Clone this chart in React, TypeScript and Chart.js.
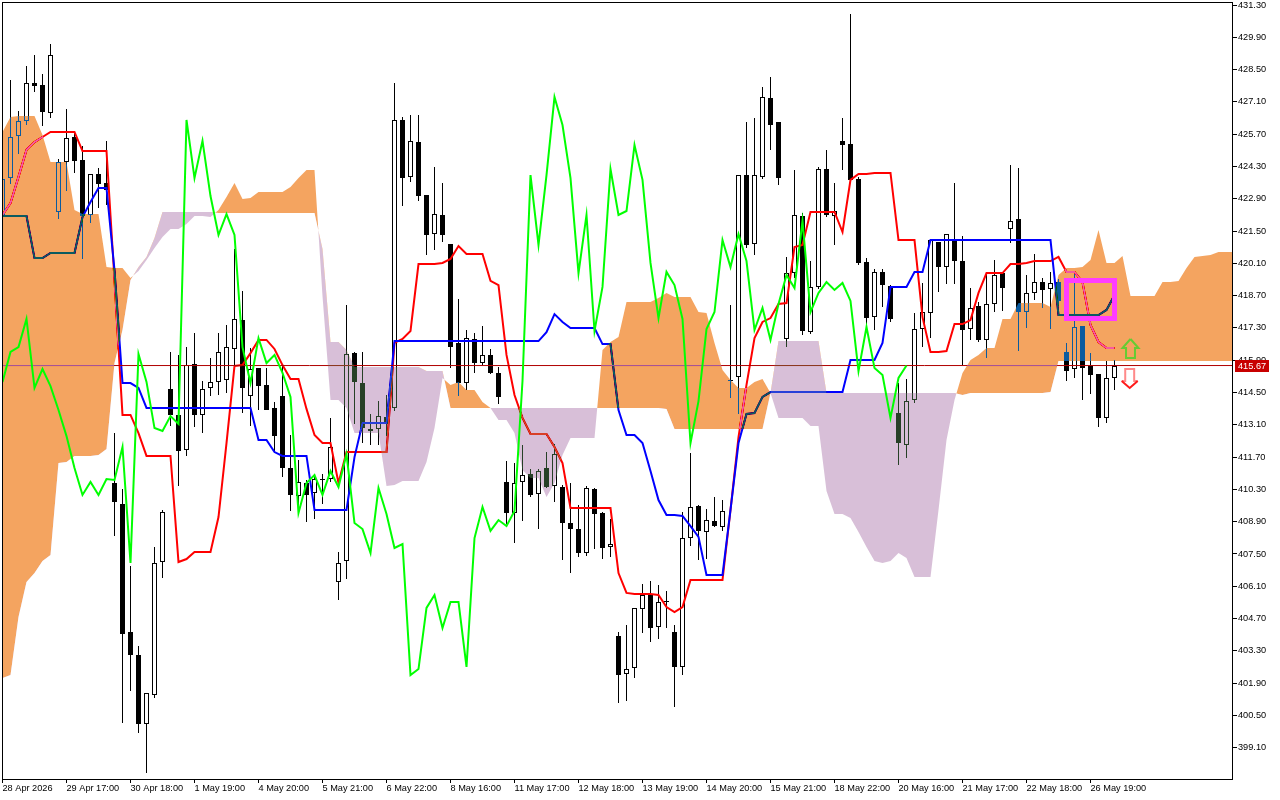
import { useEffect, useRef } from "react";
import { Chart, registerables } from "chart.js";

Chart.register(...registerables);

const opens = [
  422.15, 423.80, 425.62, 426.27, 427.92, 427.83, 426.62, 422.33, 424.50, 425.58,
  424.58, 422.20, 423.98, 423.59, 410.58, 409.67, 404.12, 403.12, 400.13, 401.38,
  407.15, 414.65, 413.53, 412.01, 415.74, 413.53, 414.70, 414.96, 415.04, 416.39,
  417.65, 414.35, 415.56, 414.83, 413.83, 414.35, 411.23, 410.01, 410.58, 410.14,
  410.75, 410.75, 406.28, 407.20, 416.21, 414.91, 412.92, 412.92, 413.44, 413.83,
  426.32, 423.85, 425.36, 423.06, 421.37, 422.20, 420.94, 416.65, 414.91, 416.82,
  415.78, 416.13, 415.35, 410.62, 409.28, 410.62, 410.97, 410.10, 411.23, 410.45,
  410.40, 408.84, 408.58, 407.54, 410.32, 409.28, 407.80, 403.94, 402.29, 402.56,
  405.11, 405.72, 404.33, 405.46, 404.12, 402.60, 408.19, 409.58, 408.45, 408.93,
  408.67, 415.04, 415.17, 423.93, 420.94, 423.85, 427.27, 426.23, 416.82, 419.68,
  422.15, 417.12, 419.08, 424.19, 422.15, 425.41, 425.28, 423.76, 420.16, 417.77,
  419.73, 419.12, 413.61, 412.22, 414.18, 417.25, 417.95, 421.03, 419.94, 421.07,
  420.20, 417.25, 418.25, 416.78, 418.34, 419.68, 421.59, 422.02, 417.99, 418.82,
  419.29, 418.99, 419.29, 416.26, 415.52, 417.38, 415.65, 415.30, 413.40, 415.13,
];
const highs = [
  423.93, 428.05, 426.71, 428.66, 429.14, 428.31, 429.61, 424.63, 426.79, 425.75,
  425.19, 423.98, 424.24, 425.41, 412.74, 410.32, 406.98, 403.51, 401.47, 407.80,
  409.41, 416.26, 416.13, 416.47, 417.08, 415.00, 416.00, 417.08, 417.43, 420.72,
  418.90, 416.43, 415.56, 415.56, 414.09, 415.69, 412.66, 411.57, 410.71, 410.97,
  410.97, 413.40, 407.59, 418.30, 416.26, 416.26, 413.57, 414.13, 414.39, 427.92,
  426.45, 426.53, 426.53, 423.06, 424.28, 423.59, 420.94, 418.56, 417.21, 417.08,
  417.38, 416.39, 415.61, 411.53, 411.44, 412.22, 411.18, 411.18, 411.92, 412.27,
  410.49, 410.58, 409.62, 410.45, 410.36, 409.32, 409.02, 404.12, 404.42, 405.16,
  406.20, 406.33, 406.16, 405.89, 404.42, 409.32, 411.88, 409.62, 409.45, 409.97,
  409.84, 418.30, 423.93, 426.23, 426.40, 427.75, 428.18, 426.23, 420.38, 424.15,
  422.28, 420.20, 424.28, 425.02, 423.59, 426.40, 430.91, 423.85, 420.33, 419.86,
  419.86, 419.16, 414.91, 415.09, 417.95, 419.25, 421.11, 421.03, 421.37, 423.59,
  421.29, 419.03, 418.43, 419.68, 420.25, 419.73, 424.37, 424.24, 419.60, 420.51,
  419.47, 419.73, 419.42, 416.65, 419.64, 417.38, 416.21, 415.30, 415.87, 415.91,
];
const lows = [
  421.98, 423.54, 424.84, 426.10, 427.53, 426.06, 426.40, 422.02, 423.24, 424.02,
  420.29, 421.85, 422.50, 422.63, 408.28, 400.17, 401.56, 399.74, 398.00, 401.25,
  406.46, 413.05, 410.45, 411.75, 413.01, 412.74, 414.35, 414.39, 414.48, 415.69,
  413.61, 413.05, 413.74, 413.74, 411.96, 410.84, 409.36, 409.32, 408.89, 409.02,
  409.67, 410.62, 405.50, 406.41, 413.14, 412.31, 412.22, 412.22, 412.61, 413.70,
  422.59, 423.63, 422.80, 420.46, 420.68, 421.03, 415.56, 414.35, 414.61, 415.35,
  415.70, 415.30, 414.00, 408.80, 407.97, 408.93, 409.97, 408.58, 410.36, 409.75,
  407.24, 406.67, 407.37, 407.41, 407.72, 407.28, 407.37, 401.04, 401.12, 402.12,
  404.07, 403.68, 403.81, 404.29, 400.86, 402.25, 407.85, 407.24, 407.28, 408.67,
  408.50, 414.26, 413.57, 420.77, 420.46, 423.76, 425.02, 423.50, 416.47, 419.47,
  417.00, 417.05, 419.00, 422.11, 420.90, 424.15, 423.60, 420.03, 417.34, 417.21,
  418.21, 417.56, 411.36, 411.66, 414.05, 416.47, 416.86, 418.86, 419.21, 419.21,
  415.69, 416.78, 416.69, 416.00, 417.99, 418.04, 420.98, 416.30, 417.30, 418.51,
  418.17, 417.25, 418.25, 415.00, 415.13, 414.18, 414.44, 413.01, 413.18, 414.61,
];
const closes = [
  423.76, 425.58, 426.27, 427.92, 427.79, 426.66, 429.14, 424.50, 425.54, 424.54,
  422.15, 423.98, 423.54, 423.28, 409.75, 404.03, 403.12, 400.13, 401.47, 407.11,
  409.32, 413.53, 411.96, 415.69, 413.53, 414.65, 414.96, 416.26, 416.47, 417.69,
  414.70, 415.52, 414.78, 413.74, 412.61, 411.23, 410.06, 410.62, 410.06, 410.75,
  410.71, 412.14, 407.11, 416.17, 414.96, 412.96, 412.83, 413.48, 413.14, 426.32,
  423.80, 425.41, 423.02, 421.33, 422.24, 421.33, 416.47, 414.91, 416.86, 415.78,
  416.13, 415.35, 414.31, 409.28, 410.58, 410.92, 410.06, 411.10, 410.40, 411.83,
  408.84, 408.58, 407.54, 410.36, 409.23, 407.76, 407.93, 402.25, 402.51, 405.16,
  405.72, 404.29, 405.42, 405.42, 402.60, 408.19, 409.54, 408.50, 408.97, 408.71,
  409.36, 415.00, 423.93, 420.90, 423.93, 427.31, 426.10, 423.80, 419.68, 422.20,
  417.17, 419.08, 424.19, 422.20, 422.37, 425.23, 423.72, 420.12, 417.73, 419.73,
  419.16, 417.69, 412.31, 414.13, 417.25, 417.99, 421.11, 419.94, 421.37, 420.20,
  417.21, 418.17, 416.78, 418.34, 419.60, 419.03, 421.94, 417.99, 418.82, 419.29,
  418.95, 419.25, 418.47, 415.43, 417.34, 415.56, 415.26, 413.40, 415.13, 415.67,
];

const tenkan = [
  422.20, 422.72, 423.85, 425.02, 425.36, 425.58, 425.80, 425.80, 425.80, 425.80,
  424.97, 424.97, 424.97, 424.97, 419.38, 413.53, 413.53, 412.74, 411.75, 411.75,
  411.75, 411.75, 407.15, 407.28, 407.59, 407.59, 407.59, 409.10, 412.31, 415.65,
  415.69, 416.21, 416.78, 416.78, 416.39, 415.69, 415.09, 415.09, 413.79, 412.66,
  412.31, 412.31, 410.58, 411.92, 411.92, 411.92, 411.92, 411.92, 411.92, 416.65,
  416.82, 417.17, 420.07, 420.07, 420.07, 420.12, 420.29, 420.85, 420.51, 420.51,
  420.51, 419.34, 419.16, 416.13, 414.39, 413.40, 412.70, 412.70, 412.70, 412.14,
  411.44, 409.49, 409.49, 409.49, 409.49, 409.49, 409.49, 406.67, 405.81, 405.76,
  405.76, 405.76, 405.72, 405.20, 404.98, 405.20, 406.37, 406.37, 406.37, 406.37,
  406.37, 409.41, 412.57, 414.83, 416.86, 417.56, 417.73, 418.34, 418.38, 420.81,
  420.90, 422.33, 422.33, 422.33, 422.33, 421.46, 423.72, 423.98, 423.98, 424.02,
  424.02, 424.02, 421.11, 421.11, 421.11, 417.77, 416.26, 416.26, 416.30, 417.47,
  417.47, 417.64, 418.82, 419.68, 419.68, 419.68, 420.07, 420.07, 420.12, 420.20,
  420.20, 420.20, 420.38, 419.73, 419.73, 419.29, 417.43, 416.69, 416.43, 416.43,
];
const kijun = [
  422.15, 422.15, 422.15, 422.15, 420.33, 420.33, 420.55, 420.55, 420.55, 420.55,
  422.11, 422.76, 423.37, 423.37, 419.81, 414.91, 414.91, 414.70, 413.83, 413.83,
  413.83, 413.83, 413.83, 413.83, 413.83, 413.83, 413.83, 413.83, 413.83, 413.83,
  413.83, 413.83, 412.44, 412.44, 411.92, 411.75, 411.75, 411.75, 411.75, 409.41,
  409.41, 409.41, 409.41, 409.41, 411.70, 413.18, 413.18, 413.18, 413.18, 416.73,
  416.73, 416.73, 416.73, 416.73, 416.73, 416.73, 416.73, 416.73, 416.73, 416.73,
  416.73, 416.73, 416.73, 416.73, 416.73, 416.73, 416.73, 416.73, 417.12, 417.90,
  417.56, 417.30, 417.30, 417.30, 417.30, 416.60, 416.60, 413.74, 412.66, 412.66,
  412.31, 411.10, 409.84, 409.19, 409.19, 409.15, 408.71, 408.24, 406.59, 406.59,
  406.59, 409.41, 412.31, 413.57, 413.61, 414.31, 414.52, 414.52, 414.52, 414.52,
  414.52, 414.52, 414.52, 414.52, 414.52, 414.52, 415.91, 415.91, 415.91, 415.91,
  416.65, 419.08, 419.08, 419.08, 419.73, 419.73, 421.11, 421.11, 421.11, 421.11,
  421.11, 421.11, 421.11, 421.11, 421.11, 421.11, 421.11, 421.11, 421.11, 421.11,
  421.11, 421.11, 417.86, 417.86, 417.86, 417.86, 417.86, 417.86, 418.08, 418.73,
];
// lagging span: the closes drawn 26 bars back
const chikou = closes.slice(26);

const senkouA = [
  425.80, 426.45, 426.49, 426.49, 426.49, 425.67, 424.50, 424.50, 424.50, 422.41,
  422.24, 422.24, 422.24, 419.94, 419.90, 419.90, 419.47, 419.77, 420.25, 420.77,
  421.24, 421.59, 421.59, 421.81, 422.15, 422.15, 422.11, 422.41, 422.98, 423.59,
  422.89, 422.93, 423.19, 423.19, 423.19, 423.19, 423.41, 423.80, 424.15, 424.15,
  418.69, 414.18, 414.18, 413.83, 412.74, 412.74, 412.74, 412.74, 410.45, 410.49,
  410.66, 410.66, 410.66, 411.49, 412.96, 415.13, 414.83, 414.96, 414.61, 414.61,
  414.09, 413.83, 413.31, 413.31, 412.74, 411.14, 410.79, 410.79, 409.97, 410.58,
  411.79, 412.53, 412.53, 412.53, 412.53, 416.34, 416.69, 416.91, 418.43, 418.43,
  418.43, 418.43, 418.60, 418.82, 418.64, 418.64, 418.64, 417.99, 417.95, 416.65,
  415.48, 415.04, 414.70, 414.70, 414.96, 415.09, 414.48, 413.40, 413.40, 413.40,
  413.40, 413.05, 413.05, 410.23, 409.23, 409.23, 409.06, 408.45, 407.80, 407.20,
  407.11, 407.20, 407.54, 407.33, 406.50, 406.50, 406.50, 409.41, 412.44, 414.18,
  415.35, 415.91, 416.13, 416.43, 416.43, 417.69, 417.69, 418.38, 418.38, 418.38,
  418.38, 418.21, 419.60, 419.90, 419.90, 419.94, 420.25, 421.55, 420.12, 420.12,
  420.42, 418.69, 418.69, 418.69, 418.69, 419.29, 419.29, 419.34, 419.90, 420.38,
  420.42, 420.46, 420.59, 420.59, 420.59,
];
const senkouB = [
  402.12, 402.25, 404.77, 406.28, 406.67, 407.20, 407.46, 411.44, 411.49, 411.75,
  411.75, 411.75, 411.79, 412.05, 415.78, 417.21, 419.38, 419.94, 420.38, 421.20,
  422.33, 422.33, 422.33, 422.33, 422.33, 422.33, 422.33, 422.28, 422.28, 422.28,
  422.28, 422.28, 422.28, 422.28, 422.28, 422.28, 422.28, 422.28, 422.28, 422.28,
  420.72, 416.69, 416.69, 416.34, 415.61, 415.61, 415.61, 415.61, 415.61, 415.61,
  415.61, 415.61, 415.61, 415.43, 415.43, 415.43, 413.83, 413.83, 413.83, 413.83,
  413.83, 413.83, 413.83, 413.83, 413.83, 413.83, 413.83, 413.83, 413.83, 413.83,
  413.83, 413.83, 413.83, 413.83, 413.83, 413.83, 413.83, 413.83, 413.83, 413.83,
  413.83, 413.83, 413.83, 413.79, 412.92, 412.92, 412.92, 412.92, 412.92, 412.92,
  412.92, 412.92, 412.92, 412.92, 412.92, 412.92, 414.48, 416.73, 416.73, 416.73,
  416.73, 416.73, 416.73, 414.48, 414.48, 414.48, 414.48, 414.48, 414.48, 414.48,
  414.48, 414.48, 414.48, 414.48, 414.48, 414.48, 414.48, 414.48, 414.48, 414.48,
  414.39, 414.48, 414.48, 414.48, 414.48, 414.48, 414.48, 414.48, 414.48, 414.48,
  414.48, 414.52, 415.87, 415.87, 415.87, 415.87, 415.87, 415.87, 415.87, 415.87,
  415.87, 415.87, 415.87, 415.87, 415.87, 415.87, 415.87, 415.87, 415.87, 415.87,
  415.87, 415.87, 415.87, 415.87, 415.87,
];

const priceTicks = [
  431.3, 429.9, 428.5, 427.1, 425.7, 424.3, 422.9, 421.5, 420.1, 418.7, 417.3, 415.9,
  414.5, 413.1, 411.7, 410.3, 408.9, 407.5, 406.1, 404.7, 403.3, 401.9, 400.5, 399.1,
];
const timeLabels = [
  "28 Apr 2026", "29 Apr 17:00", "30 Apr 18:00", "1 May 19:00", "4 May 20:00", "5 May 21:00",
  "6 May 22:00", "8 May 16:00", "11 May 17:00", "12 May 18:00", "13 May 19:00", "14 May 20:00",
  "15 May 21:00", "18 May 22:00", "20 May 16:00", "21 May 17:00", "22 May 18:00", "26 May 19:00",
];
const barsPerLabel = 8;
const lastPrice = 415.67;

const boxBars = [133, 139];
const boxPrices = [419.36, 417.71];
const upArrow = [
  [141, 416.82], [142, 416.43], [141.56, 416.43], [141.56, 416.0],
  [140.44, 416.0], [140.44, 416.43], [140, 416.43], [141, 416.82],
];
const downStem = [
  [139.9, 415.0], [140.34, 415.0], [140.34, 415.52], [141.46, 415.52], [141.46, 415.0], [141.9, 415.0],
];
const downHead = [[139.9, 415.0], [140.9, 414.7], [141.9, 415.0]];

const xMin = -0.0625;
const xMax = 153.6875;

const points = (values: number[]) => values.map((y, x) => ({ x, y }));
const pairs = (list: number[][]) => list.map(([x, y]) => ({ x, y }));

const lineStyle = { type: "line" as const, pointRadius: 0, pointHoverRadius: 0, tension: 0 };

// the cloud is painted over what is already there, the way the terminal does it
const cloudBlend = {
  id: "cloudBlend",
  afterDatasetDraw(chart: any, args: any) {
    const label = chart.data.datasets[args.index].label;
    if (label === "price") chart.ctx.globalCompositeOperation = "difference";
    if (label === "senkouA") chart.ctx.globalCompositeOperation = "source-over";
  },
};

const snapBars = {
  id: "snapBars",
  afterDatasetsUpdate(chart: any) {
    chart.getSortedVisibleDatasetMetas().forEach((meta: any) => {
      if (meta.type !== "bar") return;
      meta.data.forEach((bar: any) => {
        bar.y = Math.round(bar.y);
        bar.base = Math.round(bar.base);
        if (bar.y === bar.base) bar.base = bar.y + 1;
      });
    });
  },
};

const frame = {
  id: "frame",
  beforeDraw(chart: any) {
    const { ctx, width, height } = chart;
    ctx.save();
    ctx.fillStyle = "#ffffff";
    ctx.fillRect(0, 0, width, height);
    ctx.restore();
  },
  afterDraw(chart: any) {
    const { ctx, chartArea, scales } = chart;
    ctx.save();
    ctx.strokeStyle = "#000000";
    ctx.lineWidth = 1;
    ctx.strokeRect(chartArea.left + 0.5, chartArea.top + 0.5, chartArea.width, chartArea.height);
    const y = Math.floor(scales.y.getPixelForValue(lastPrice));
    ctx.fillStyle = "#c80000";
    ctx.fillRect(chartArea.right + 3, y - 5, 34, 12);
    ctx.fillStyle = "#ffffff";
    ctx.font = "9.2px 'Liberation Sans'";
    ctx.textBaseline = "middle";
    ctx.fillText(lastPrice.toFixed(2), chartArea.right + 6, y + 1);
    ctx.restore();
  },
};

export default function App() {
  const canvas = useRef<HTMLCanvasElement>(null);

  useEffect(() => {
    if (!canvas.current) return;
    const chart = new Chart(canvas.current, {
      type: "bar",
      data: {
        datasets: [
          {
            label: "wicks",
            order: 20,
            data: lows.map((low, i) => ({ x: i, y: [low, highs[i]] })),
            backgroundColor: "#000000",
            barThickness: 1,
            inflateAmount: 0,
            grouped: false,
          },
          {
            label: "bodies",
            order: 19,
            data: opens.map((open, i) => ({ x: i, y: [open, closes[i]] })),
            backgroundColor: opens.map((open, i) => (closes[i] >= open ? "#ffffff" : "#000000")),
            borderColor: "#000000",
            borderWidth: 1,
            borderSkipped: false,
            barThickness: 5,
            inflateAmount: 0,
            grouped: false,
          },
          { ...lineStyle, label: "tenkan", order: 18, data: points(tenkan), borderColor: "#ff0000", borderWidth: 2 },
          { ...lineStyle, label: "kijun", order: 17, data: points(kijun), borderColor: "#0000ff", borderWidth: 2 },
          {
            ...lineStyle,
            label: "price",
            order: 16,
            data: [{ x: xMin, y: lastPrice }, { x: xMax, y: lastPrice }],
            borderColor: "#b00000",
            borderWidth: 1,
          },
          {
            ...lineStyle,
            label: "senkouA",
            order: 15,
            data: points(senkouA),
            borderWidth: 0,
            borderColor: "rgba(0,0,0,0)",
            fill: { target: "+1", above: "#0b5b9f", below: "#274027" },
          },
          {
            ...lineStyle,
            label: "senkouB",
            order: 14,
            data: points(senkouB),
            borderWidth: 0,
            borderColor: "rgba(0,0,0,0)",
          },
          { ...lineStyle, label: "chikou", order: 13, data: points(chikou), borderColor: "#00ff00", borderWidth: 2 },
          { ...lineStyle, label: "up", order: 12, data: pairs(upArrow), borderColor: "#66cc33", borderWidth: 2 },
          { ...lineStyle, label: "downStem", order: 11, data: pairs(downStem), borderColor: "#ff8a8a", borderWidth: 2 },
          { ...lineStyle, label: "downHead", order: 10, data: pairs(downHead), borderColor: "#ff1a1a", borderWidth: 2 },
          {
            ...lineStyle,
            label: "box",
            order: 9,
            data: [
              { x: boxBars[0], y: boxPrices[0] },
              { x: boxBars[1], y: boxPrices[0] },
              { x: boxBars[1], y: boxPrices[1] },
              { x: boxBars[0], y: boxPrices[1] },
              { x: boxBars[0], y: boxPrices[0] },
            ],
            borderColor: "#ff3cff",
            borderWidth: 5,
            borderJoinStyle: "miter",
            borderCapStyle: "square",
          },
        ] as any,
      },
      options: {
        animation: false,
        responsive: false,
        devicePixelRatio: 1,
        layout: { padding: { left: 2, top: 2, right: 0, bottom: 0 } },
        plugins: {
          legend: { display: false },
          tooltip: { enabled: false },
          filler: { drawTime: "beforeDatasetDraw", propagate: false },
        },
        events: [],
        scales: {
          x: {
            type: "linear",
            min: xMin,
            max: xMax,
            offset: false,
            afterBuildTicks(scale: any) {
              scale.ticks = timeLabels.map((_, i) => ({ value: i * barsPerLabel }));
            },
            afterFit(scale: any) {
              scale.height = 21;
              scale.paddingLeft = 0;
              scale.paddingRight = 0;
            },
            grid: { offset: false, drawOnChartArea: false, drawTicks: true, tickLength: 4, color: "#000000" },
            border: { display: true, color: "#000000" },
            ticks: {
              align: "start",
              autoSkip: false,
              maxRotation: 0,
              padding: 0,
              color: "#000000",
              font: { family: "'Liberation Sans'", size: 9.2 },
              callback: (value: any) => timeLabels[Number(value) / barsPerLabel],
            },
          },
          y: {
            type: "linear",
            position: "right",
            min: 397.743,
            max: 431.433,
            afterBuildTicks(scale: any) {
              scale.ticks = priceTicks.map((value) => ({ value }));
            },
            afterFit(scale: any) {
              scale.width = 48;
              scale.paddingTop = 0;
              scale.paddingBottom = 0;
            },
            grid: { drawOnChartArea: false, drawTicks: true, tickLength: 5, color: "#000000" },
            border: { display: true, color: "#000000" },
            ticks: {
              autoSkip: false,
              padding: 1,
              color: "#000000",
              font: { family: "'Liberation Sans'", size: 9.2 },
              callback: (value: any) => Number(value).toFixed(2),
            },
          },
        },
      },
      plugins: [snapBars, cloudBlend, frame],
    } as any);
    return () => chart.destroy();
  }, []);

  return (
    <canvas
      ref={canvas}
      width={1280}
      height={800}
      style={{ position: "absolute", left: 0, top: 0, display: "block" }}
    />
  );
}
